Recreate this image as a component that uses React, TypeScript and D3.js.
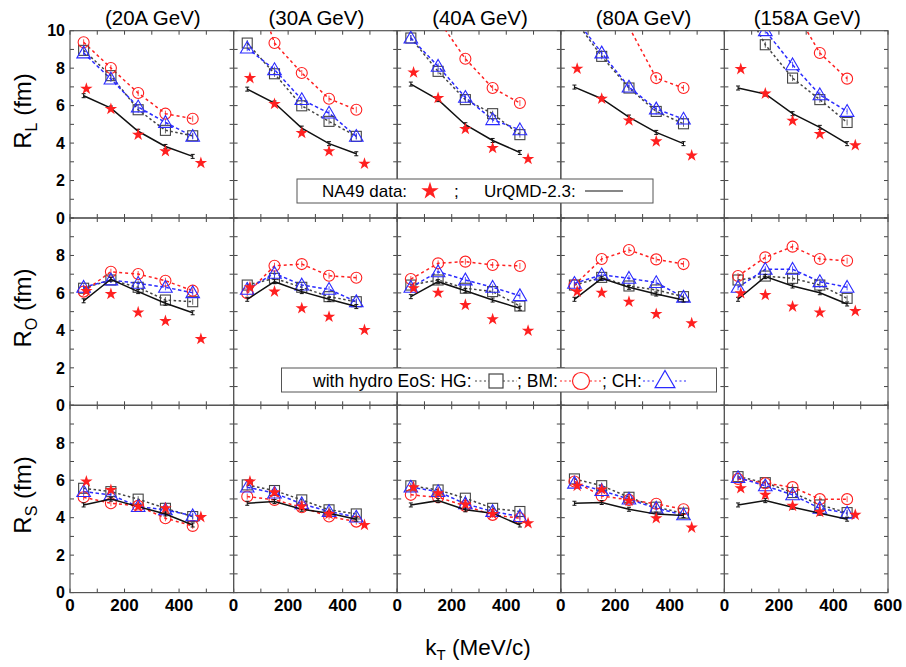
import React from 'react';
import * as d3 from 'd3';

// kT bins (MeV/c)
const modelKT = [50, 150, 250, 350, 450];
const dataKT = [60, 150, 250, 350, 480];
const energies = ['(20A GeV)', '(30A GeV)', '(40A GeV)', '(80A GeV)', '(158A GeV)'];
const rowNames = ['L', 'O', 'S'];

// R_L (fm), one row per energy
const rlData = [[6.90, 5.82, 4.45, 3.56, 2.94], [7.47, 6.09, 4.54, 3.56, 2.90], [7.77, 6.41, 4.75, 3.74, 3.15], [7.97, 6.37, 5.21, 4.09, 3.34], [7.95, 6.64, 5.19, 4.48, 3.88]];
const rlUrqmd = [[6.53, 5.87, 4.63, 3.82, 3.29], [6.88, 6.14, 4.80, 3.97, 3.43], [7.15, 6.32, 4.98, 4.14, 3.50], [6.99, 6.37, 5.39, 4.57, 3.97], [6.94, 6.62, 5.57, 4.84, 3.97]];
const rlHG = [[8.95, 7.60, 5.78, 4.68, 4.39], [9.34, 7.70, 5.99, 5.16, 4.36], [9.61, 7.83, 6.32, 5.57, 4.45], [10.6, 8.63, 6.94, 5.69, 5.03], [11.9, 9.25, 7.47, 6.32, 5.10]];
const rlBM = [[9.38, 8.01, 6.67, 5.57, 5.30], [13.6, 9.34, 7.74, 6.37, 5.78], [12.7, 10.6, 8.50, 6.94, 6.14], [15.5, 12.9, 10.2, 7.47, 6.94], [16.3, 13.8, 11.3, 8.81, 7.44]];
const rlCH = [[8.81, 7.42, 5.93, 5.10, 4.36], [9.07, 7.92, 6.32, 5.60, 4.36], [9.61, 8.10, 6.44, 5.25, 4.71], [10.7, 8.81, 6.99, 5.82, 5.28], [12.0, 10.0, 8.18, 6.58, 5.69]];

// R_O (fm)
const roData = [[6.10, 5.94, 4.96, 4.50, 3.54], [6.30, 6.07, 5.18, 4.73, 4.02], [6.25, 6.01, 5.36, 4.59, 3.98], [6.07, 6.01, 5.53, 4.87, 4.38], [5.98, 5.89, 5.27, 4.96, 5.03]];
const roUrqmd = [[5.58, 6.73, 6.07, 5.45, 4.94], [5.66, 6.60, 6.07, 5.66, 5.27], [5.80, 6.60, 6.12, 5.62, 5.18], [5.66, 6.78, 6.30, 5.94, 5.62], [5.66, 6.87, 6.37, 6.01, 5.41]];
const roHG = [[6.25, 6.69, 6.30, 5.62, 5.53], [6.42, 6.78, 6.30, 5.80, 5.53], [6.42, 6.69, 6.25, 6.07, 5.30], [6.42, 6.83, 6.37, 6.16, 5.80], [6.69, 6.90, 6.78, 6.42, 5.71]];
const roBM = [[6.07, 7.13, 7.01, 6.65, 6.12], [5.98, 7.45, 7.54, 6.92, 6.81], [6.74, 7.58, 7.67, 7.49, 7.44], [6.42, 7.81, 8.29, 7.79, 7.54], [6.90, 7.90, 8.47, 7.81, 7.72]];
const roCH = [[6.30, 6.69, 6.51, 6.30, 6.01], [6.19, 7.05, 6.42, 6.19, 5.53], [6.30, 7.13, 6.69, 6.30, 5.85], [6.51, 6.96, 6.78, 6.55, 5.77], [6.30, 7.26, 7.26, 6.60, 6.30]];

// R_S (fm)
const rsData = [[5.93, 5.48, 4.60, 4.50, 4.03], [5.93, 5.35, 4.60, 4.20, 3.61], [5.63, 5.30, 4.70, 4.20, 3.70], [5.70, 5.50, 4.90, 3.97, 3.47], [5.57, 5.22, 4.63, 4.30, 4.15]];
const rsUrqmd = [[4.68, 4.99, 4.59, 4.20, 3.61], [4.77, 4.86, 4.45, 4.24, 3.92], [4.68, 4.91, 4.42, 4.24, 3.61], [4.77, 4.81, 4.45, 4.19, 4.11], [4.68, 4.91, 4.56, 4.24, 3.92]];
const rsHG = [[5.57, 5.39, 4.99, 4.50, 4.06], [5.75, 5.45, 4.95, 4.42, 4.20], [5.70, 5.48, 5.04, 4.50, 4.33], [6.07, 5.71, 5.09, 4.56, 4.24], [6.19, 5.87, 5.34, 4.68, 4.27]];
const rsBM = [[5.09, 4.77, 4.63, 3.97, 3.56], [5.13, 4.95, 4.56, 4.06, 3.79], [5.22, 5.09, 4.63, 4.15, 3.97], [5.93, 5.16, 4.95, 4.74, 4.45], [6.07, 5.84, 5.63, 4.99, 4.99]];
const rsCH = [[5.39, 5.22, 4.59, 4.42, 4.10], [5.63, 5.31, 4.74, 4.33, 4.03], [5.63, 5.39, 4.74, 4.33, 4.06], [5.84, 5.45, 4.99, 4.50, 4.15], [6.14, 5.70, 5.22, 4.50, 4.24]];

const rows = [
  { data: rlData, urqmd: rlUrqmd, hg: rlHG, bm: rlBM, ch: rlCH, ticks: [0, 2, 4, 6, 8, 10] },
  { data: roData, urqmd: roUrqmd, hg: roHG, bm: roBM, ch: roCH, ticks: [0, 2, 4, 6, 8] },
  { data: rsData, urqmd: rsUrqmd, hg: rsHG, bm: rsBM, ch: rsCH, ticks: [0, 2, 4, 6, 8] },
];

const FONT = '"Liberation Sans", Arial, sans-serif';
const RED = '#ff2020';
const BLUE = '#2b2bff';
const GREY = '#444';

const W = 906, H = 667;
const left = 70, panelW = 163.6, top = 30.7, rowH = 187.3;
// vertical centres of the rotated R labels
const labelY = [111, 308, 495];

const starPath = d3.symbol(d3.symbolStar, 48)();
const triPath = d3.symbol(d3.symbolTriangle, 80)();

function Square({ x, y }) {
  return <rect x={x - 5} y={y - 5} width={10} height={10} fill="none" stroke={GREY} strokeWidth={1.1} />;
}
function Circle({ x, y }) {
  return <circle cx={x} cy={y} r={5.5} fill="none" stroke={RED} strokeWidth={1.1} />;
}
function Tri({ x, y }) {
  return <path d={triPath} transform={`translate(${x},${y + 1})`} fill="none" stroke={BLUE} strokeWidth={1.1} />;
}
function Star({ x, y }) {
  return <path d={starPath} transform={`translate(${x},${y})`} fill={RED} stroke="none" />;
}

function Panel({ row, col }) {
  const r = rows[row];
  const x0 = left + col * panelW;
  const y0 = top + row * rowH;
  const x = d3.scaleLinear().domain([0, 600]).range([x0, x0 + panelW]);
  const y = d3.scaleLinear().domain([0, 10]).range([y0 + rowH, y0]);
  const line = d3.line<number>().x((d, i) => x(modelKT[i])).y(d => y(d));
  const clipId = `clip-${row}-${col}`;
  const xTicks = d3.range(0, 601, 100);
  const yTicks = d3.range(0, 11, 1);
  const inside = (v: number) => v <= 10.05;

  const models = [
    { vals: r.hg[col], color: GREY, dash: '2.5,2.5', M: Square },
    { vals: r.bm[col], color: RED, dash: '3,3', M: Circle },
    { vals: r.ch[col], color: BLUE, dash: '3.5,2.5', M: Tri },
  ];

  return (
    <g>
      <defs>
        <clipPath id={clipId}>
          <rect x={x0} y={y0} width={panelW} height={rowH} />
        </clipPath>
      </defs>
      {/* ticks, inward on all four sides */}
      {xTicks.map(t => (
        <g key={'xt' + t} stroke={GREY} strokeWidth={1}>
          <line x1={x(t)} x2={x(t)} y1={y0 + rowH} y2={y0 + rowH - 4} />
          <line x1={x(t)} x2={x(t)} y1={y0} y2={y0 + 4} />
        </g>
      ))}
      {yTicks.map(t => (
        <g key={'yt' + t} stroke={GREY} strokeWidth={1}>
          <line x1={x0} x2={x0 + 4} y1={y(t)} y2={y(t)} />
          <line x1={x0 + panelW} x2={x0 + panelW - 4} y1={y(t)} y2={y(t)} />
        </g>
      ))}
      <rect x={x0} y={y0} width={panelW} height={rowH} fill="none" stroke="#555" strokeWidth={1.2} />

      <g clipPath={`url(#${clipId})`}>
        {models.map((m, k) => (
          <path key={'ml' + k} d={line(m.vals) || ''} fill="none" stroke={m.color} strokeWidth={1.5} strokeDasharray={m.dash} />
        ))}
        {models.map((m, k) => (
          <g key={'mm' + k}>
            {m.vals.map((v, i) => inside(v) ? (
              <g key={i}>
                <line x1={x(modelKT[i])} x2={x(modelKT[i])} y1={y(v) - 3} y2={y(v) + 3} stroke={m.color} strokeWidth={0.8} />
                <m.M x={x(modelKT[i])} y={y(v)} />
              </g>
            ) : null)}
          </g>
        ))}
        <path d={line(r.urqmd[col]) || ''} fill="none" stroke="#111" strokeWidth={1.5} />
        {r.urqmd[col].map((v, i) => (
          <g key={'u' + i} stroke="#111" strokeWidth={1}>
            <line x1={x(modelKT[i]) - 2} x2={x(modelKT[i]) + 2} y1={y(v) - 2} y2={y(v) - 2} />
            <line x1={x(modelKT[i]) - 2} x2={x(modelKT[i]) + 2} y1={y(v) + 2} y2={y(v) + 2} />
            <line x1={x(modelKT[i])} x2={x(modelKT[i])} y1={y(v) - 2} y2={y(v) + 2} />
          </g>
        ))}
      </g>
      {r.data[col].map((v, i) => (
        <Star key={'s' + i} x={x(dataKT[i])} y={y(v)} />
      ))}

      {/* tick labels */}
      {col === 0 && r.ticks.map(t => (
        <text key={'yl' + t} x={x0 - 5} y={y(t)} dy="0.36em" textAnchor="end" fontFamily={FONT} fontWeight="bold" fontSize={16}>{t}</text>
      ))}
      {row === 2 && (col === 4 ? [0, 200, 400, 600] : [0, 200, 400]).map(t => (
        <text key={'xl' + t} x={x(t)} y={y0 + rowH + 18.5} textAnchor="middle" fontFamily={FONT} fontWeight="bold" fontSize={17}>{t}</text>
      ))}
      {row === 0 && (
        <text x={x0 + panelW / 2 + 1} y={25} textAnchor="middle" fontFamily={FONT} fontSize={20.5}>{energies[col]}</text>
      )}
    </g>
  );
}

function DotLine({ x1, x2, y, color }) {
  return <line x1={x1} x2={x2} y1={y} y2={y} stroke={color} strokeWidth={1.2} strokeDasharray="2,2.5" />;
}

export default function App() {
  return (
    <div style={{ position: 'absolute', left: 0, top: 0 }}>
      <svg width={W} height={H} style={{ display: 'block', background: '#fff' }}>
        {rows.map((r, ri) => energies.map((e, ci) => <Panel key={ri + '-' + ci} row={ri} col={ci} />))}

        {rowNames.map((n, i) => (
          <text key={n} transform={`translate(31,${labelY[i]}) rotate(-90)`} textAnchor="middle" fontFamily={FONT} fontSize={24}>
            R<tspan fontSize={16} dy={6}>{n}</tspan><tspan dy={-6}> (fm)</tspan>
          </text>
        ))}

        <text x={478} y={655} textAnchor="middle" fontFamily={FONT} fontSize={22.5}>
          k<tspan fontSize={15} dy={5}>T</tspan><tspan dy={-5}> (MeV/c)</tspan>
        </text>

        {/* legend 1 */}
        <g fontFamily={FONT} fontSize={17}>
          <rect x={297} y={179} width={356} height={24} fill="#fff" stroke="#555" strokeWidth={1} />
          <text x={322} y={197}>NA49 data:</text>
          <path d={d3.symbol(d3.symbolStar, 95)()} transform="translate(430,191)" fill={RED} />
          <text x={454} y={197}>;</text>
          <text x={484} y={197}>UrQMD-2.3:</text>
          <line x1={585} x2={623} y1={191} y2={191} stroke="#111" strokeWidth={1.2} />
        </g>

        {/* legend 2 */}
        <g fontFamily={FONT} fontSize={17.5}>
          <rect x={281.5} y={368} width={435} height={24} fill="#fff" stroke="#555" strokeWidth={1} />
          <text x={313} y={387}>with hydro EoS: HG:</text>
          <DotLine x1={475} x2={489} y={381} color={GREY} />
          <rect x={489} y={374} width={14} height={14} fill="none" stroke={GREY} strokeWidth={1.2} />
          <DotLine x1={503} x2={517} y={381} color={GREY} />
          <text x={517} y={387}>; BM:</text>
          <DotLine x1={560} x2={572} y={381} color={RED} />
          <circle cx={581} cy={381} r={8.5} fill="none" stroke={RED} strokeWidth={1.2} />
          <DotLine x1={590} x2={602} y={381} color={RED} />
          <text x={602} y={387}>; CH:</text>
          <DotLine x1={643} x2={656} y={381} color={BLUE} />
          <path d={d3.symbol(d3.symbolTriangle, 170)()} transform="translate(665,382)" fill="none" stroke={BLUE} strokeWidth={1.2} />
          <DotLine x1={675} x2={686} y={381} color={BLUE} />
        </g>
      </svg>
    </div>
  );
}
